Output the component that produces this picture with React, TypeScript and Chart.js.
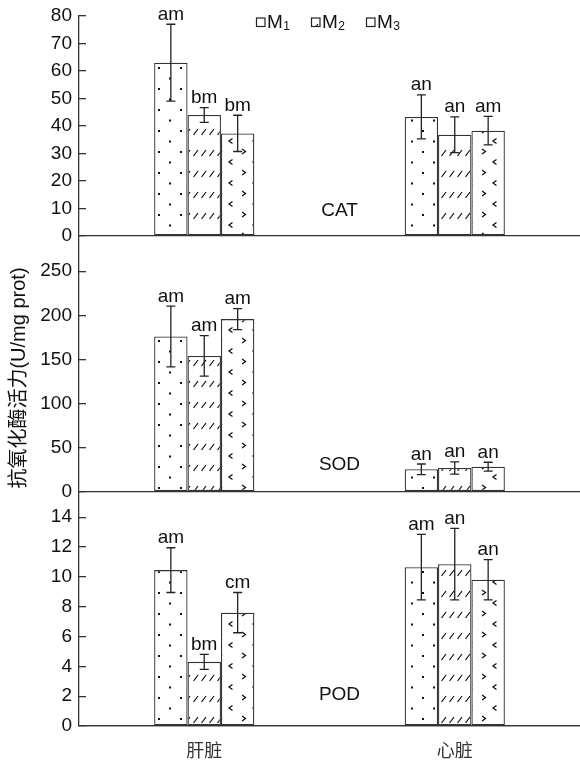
import React, { useEffect, useRef } from 'react';
import { Chart, registerables } from 'chart.js';

Chart.register(...registerables);

const categories = ['肝脏', '心脏'];
const seriesSubs = ['1', '2', '3'];
const panelNames = ['CAT', 'SOD', 'POD'];

// CAT
const catM1 = [63, 43.3];
const catM2 = [44, 36.8];
const catM3 = [37.3, 38.3];
const catErrM1 = [14, 8];
const catErrM2 = [2.7, 6.5];
const catErrM3 = [6.6, 5.2];
const catSigM1 = ['am', 'an'];
const catSigM2 = ['bm', 'an'];
const catSigM3 = ['bm', 'am'];

// SOD
const sodM1 = [176, 25.5];
const sodM2 = [154, 27];
const sodM3 = [195.7, 28.5];
const sodErrM1 = [34.5, 6];
const sodErrM2 = [23, 7];
const sodErrM3 = [12, 5];
const sodSigM1 = ['am', 'an'];
const sodSigM2 = ['am', 'an'];
const sodSigM3 = ['am', 'an'];

// POD
const podM1 = [10.45, 10.65];
const podM2 = [4.3, 10.85];
const podM3 = [7.6, 9.8];
const podErrM1 = [1.5, 2.2];
const podErrM2 = [0.5, 2.4];
const podErrM3 = [1.35, 1.35];
const podSigM1 = ['am', 'am'];
const podSigM2 = ['bm', 'an'];
const podSigM3 = ['cm', 'an'];

// axis ranges: [min, max, step, last labelled tick]
const catRange = [0, 80, 10, 80];
const sodRange = [0, 290, 50, 250];
const podRange = [0, 15.7, 2, 14];

const yTitle = '抗氧化酶活力(U/mg prot)';

const LATIN = '"Liberation Sans", Arial, "Noto Sans CJK SC", sans-serif';
const CJK = '"Noto Sans CJK SC", "Liberation Sans", sans-serif';
const INK = '#222';

function makeTile(w: number, h: number, draw: (g: CanvasRenderingContext2D) => void) {
  const c = document.createElement('canvas');
  c.width = w;
  c.height = h;
  const g = c.getContext('2d')!;
  g.fillStyle = '#fff';
  g.fillRect(0, 0, w, h);
  g.fillStyle = '#111';
  g.strokeStyle = '#111';
  draw(g);
  return g.createPattern(c, 'repeat')!;
}

export default function App() {
  const ref = useRef<HTMLCanvasElement>(null);

  useEffect(() => {
    const canvas = ref.current!;
    const p1 = makeTile(22, 21, (g) => {
      g.fillRect(4, 4, 2, 2);
      g.fillRect(15, 14.5, 2, 2);
    });
    const p2 = makeTile(8, 21, (g) => {
      g.lineWidth = 1.2;
      g.beginPath();
      g.moveTo(1.5, 9);
      g.lineTo(6, 3);
      g.stroke();
    });
    const p3 = makeTile(24, 21, (g) => {
      g.lineWidth = 1.3;
      g.beginPath();
      g.moveTo(2, 2);
      g.lineTo(5.5, 4.5);
      g.lineTo(2, 7);
      g.moveTo(16.5, 12.5);
      g.lineTo(13, 15);
      g.lineTo(16.5, 17.5);
      g.stroke();
    });
    const patterns = [p1, p2, p3];

    const panels = [
      { axis: 'yCAT', vals: [catM1, catM2, catM3], errs: [catErrM1, catErrM2, catErrM3], sig: [catSigM1, catSigM2, catSigM3] },
      { axis: 'ySOD', vals: [sodM1, sodM2, sodM3], errs: [sodErrM1, sodErrM2, sodErrM3], sig: [sodSigM1, sodSigM2, sodSigM3] },
      { axis: 'yPOD', vals: [podM1, podM2, podM3], errs: [podErrM1, podErrM2, podErrM3], sig: [podSigM1, podSigM2, podSigM3] },
    ];

    const datasets: any[] = [];
    panels.forEach((p, pi) => {
      p.vals.forEach((v, si) => {
        datasets.push({
          label: panelNames[pi] + ' M' + seriesSubs[si],
          data: v,
          yAxisID: p.axis,
          stack: 'S' + si,
          backgroundColor: patterns[si],
          borderColor: '#333',
          borderWidth: 1.3,
          borderSkipped: false,
          categoryPercentage: 0.4,
          barPercentage: 1.0,
          errs: p.errs[si],
          sig: p.sig[si],
        });
      });
    });

    const makeY = (range: number[], stackWeight: number, weight: number) => ({
      type: 'linear',
      position: 'left',
      stack: 'panels',
      stackWeight,
      weight,
      stacked: false,
      min: range[0],
      max: range[1],
      afterBuildTicks: (s: any) => {
        const t: any[] = [];
        for (let v = range[0]; v <= range[3] + 1e-9; v += range[2]) t.push({ value: v });
        s.ticks = t;
      },
      ticks: { stepSize: range[2], autoSkip: false, font: { size: 19, family: LATIN }, color: '#111', padding: 14 },
      grid: {
        drawOnChartArea: true,
        color: (ctx: any) => (ctx.tick && ctx.tick.value === 0 ? '#333' : 'rgba(0,0,0,0)'),
        lineWidth: 1.3,
        tickLength: -7,
        tickColor: '#333',
        tickWidth: 1.3,
      },
      border: { display: true, color: '#333', width: 1.3 },
      afterFit: (s: any) => {
        s.width = 79;
        s.paddingTop = 0;
        s.paddingBottom = 0;
      },
    });

    const overlay = {
      id: 'overlay',
      afterDatasetsDraw(chart: any) {
        const ctx = chart.ctx;
        ctx.save();
        // error bars + significance letters
        chart.data.datasets.forEach((ds: any, i: number) => {
          const meta = chart.getDatasetMeta(i);
          const ys = chart.scales[ds.yAxisID];
          meta.data.forEach((el: any, j: number) => {
            const v = ds.data[j];
            const e = ds.errs[j];
            const x = el.x;
            const yt = ys.getPixelForValue(v + e);
            const yb = ys.getPixelForValue(v - e);
            ctx.strokeStyle = INK;
            ctx.lineWidth = 1.3;
            ctx.beginPath();
            ctx.moveTo(x, yt);
            ctx.lineTo(x, yb);
            ctx.moveTo(x - 4.5, yt);
            ctx.lineTo(x + 4.5, yt);
            ctx.moveTo(x - 4.5, yb);
            ctx.lineTo(x + 4.5, yb);
            ctx.stroke();
            ctx.fillStyle = '#111';
            ctx.font = '19px ' + LATIN;
            ctx.textAlign = 'center';
            ctx.textBaseline = 'alphabetic';
            ctx.fillText(ds.sig[j], x, yt - 4.5);
          });
        });
        // panel names
        const xs = chart.scales.x;
        const midX = xs.getPixelForValue(0.5) + 10;
        const pos = [
          ['yCAT', 9.3],
          ['ySOD', 30.4],
          ['yPOD', 2.07],
        ];
        ctx.font = '19px ' + LATIN;
        ctx.textAlign = 'center';
        ctx.textBaseline = 'middle';
        ctx.fillStyle = '#111';
        pos.forEach((p: any, k: number) => {
          ctx.fillText(panelNames[k], midX, chart.scales[p[0]].getPixelForValue(p[1]));
        });
        // legend
        const top = chart.chartArea.top;
        let lx = 256;
        for (let k = 0; k < 3; k++) {
          ctx.fillStyle = patterns[k];
          ctx.fillRect(lx, top + 1.5, 9, 9);
          ctx.strokeStyle = '#222';
          ctx.lineWidth = 1.2;
          ctx.strokeRect(lx + 0.5, top + 2, 8.5, 8.5);
          ctx.fillStyle = '#111';
          ctx.textAlign = 'left';
          ctx.textBaseline = 'alphabetic';
          ctx.font = '19px ' + LATIN;
          ctx.fillText('M', lx + 11, top + 11.5);
          const mw = ctx.measureText('M').width;
          ctx.font = '12px ' + LATIN;
          ctx.fillText(seriesSubs[k], lx + 11 + mw + 0.5, top + 13.5);
          lx += 55;
        }
        // y-axis title
        ctx.save();
        ctx.translate(19, (chart.chartArea.top + chart.chartArea.bottom) / 2 + 7);
        ctx.rotate(-Math.PI / 2);
        ctx.font = '20px ' + LATIN;
        ctx.fillStyle = '#111';
        ctx.textAlign = 'center';
        ctx.textBaseline = 'middle';
        ctx.fillText(yTitle, 0, 0);
        ctx.restore();
        ctx.restore();
      },
    };

    const chart = new Chart(canvas, {
      type: 'bar',
      data: { labels: categories, datasets },
      options: {
        responsive: false,
        animation: false,
        devicePixelRatio: 1,
        layout: { padding: { top: 16, left: 0, right: 0, bottom: 0 } },
        plugins: { legend: { display: false }, tooltip: { enabled: false }, title: { display: false } },
        scales: {
          x: {
            type: 'category',
            position: 'bottom',
            grid: { display: false, drawTicks: false },
            border: { display: true, color: '#333', width: 1.3 },
            ticks: { font: { size: 18, family: CJK }, color: '#333', padding: 13 },
            afterFit: (s: any) => {
              s.height = 36;
            },
          },
          yCAT: makeY(catRange, 220, 3),
          ySOD: makeY(sodRange, 256, 2),
          yPOD: makeY(podRange, 234.3, 1),
        } as any,
      },
      plugins: [overlay],
    } as any);

    return () => chart.destroy();
  }, []);

  return (
    <div style={{ position: 'absolute', left: 0, top: 0, width: 580, height: 762, background: '#fff' }}>
      <canvas ref={ref} width={580} height={762} style={{ width: 580, height: 762, display: 'block' }} />
    </div>
  );
}
